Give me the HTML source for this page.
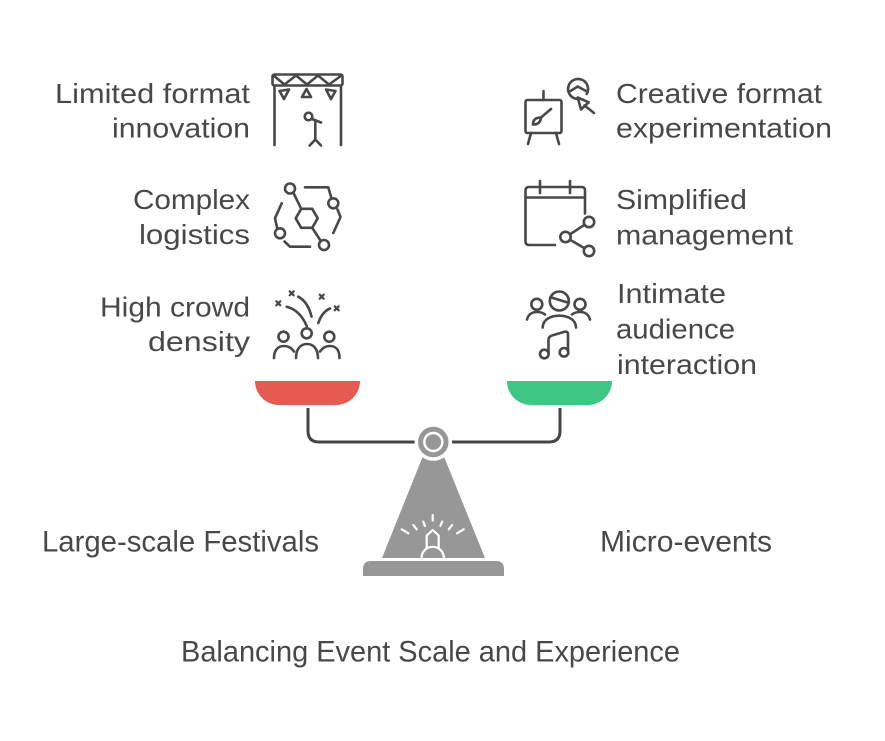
<!DOCTYPE html>
<html>
<head>
<meta charset="utf-8">
<style>
  html, body { margin: 0; padding: 0; background: #ffffff; }
  svg { display: block; }
  text { font-family: "Liberation Sans", Arial, sans-serif; fill: #484848; }
</style>
</head>
<body>
<svg width="885" height="741" viewBox="0 0 885 741" xmlns="http://www.w3.org/2000/svg">
  <rect x="0" y="0" width="885" height="741" fill="#ffffff"/>

  <!-- Left labels -->
  <g font-size="28" text-anchor="end">
    <text x="250" y="103" textLength="195" lengthAdjust="spacingAndGlyphs">Limited format</text>
    <text x="250" y="137.5" textLength="138" lengthAdjust="spacingAndGlyphs">innovation</text>
    <text x="250" y="209" textLength="117" lengthAdjust="spacingAndGlyphs">Complex</text>
    <text x="250" y="244" textLength="111" lengthAdjust="spacingAndGlyphs">logistics</text>
    <text x="250" y="316.5" textLength="150" lengthAdjust="spacingAndGlyphs">High crowd</text>
    <text x="250" y="351" textLength="102" lengthAdjust="spacingAndGlyphs">density</text>
  </g>

  <!-- Right labels -->
  <g font-size="28">
    <text x="616" y="103" textLength="206" lengthAdjust="spacingAndGlyphs">Creative format</text>
    <text x="616" y="137.5" textLength="216" lengthAdjust="spacingAndGlyphs">experimentation</text>
    <text x="616" y="209" textLength="131" lengthAdjust="spacingAndGlyphs">Simplified</text>
    <text x="616" y="244.5" textLength="177" lengthAdjust="spacingAndGlyphs">management</text>
    <text x="617" y="303" textLength="109" lengthAdjust="spacingAndGlyphs">Intimate</text>
    <text x="616" y="338.5" textLength="119" lengthAdjust="spacingAndGlyphs">audience</text>
    <text x="617" y="374" textLength="140" lengthAdjust="spacingAndGlyphs">interaction</text>
  </g>

  <!-- Bottom labels -->
  <g font-size="30">
    <text x="42" y="551.5" textLength="277" lengthAdjust="spacingAndGlyphs">Large-scale Festivals</text>
    <text x="600" y="551.5" textLength="172" lengthAdjust="spacingAndGlyphs">Micro-events</text>
    <text x="181" y="661.5" textLength="499" lengthAdjust="spacingAndGlyphs">Balancing Event Scale and Experience</text>
  </g>

  <!-- Icons -->
  <g fill="none" stroke="#484848" stroke-width="2.6" stroke-linecap="round" stroke-linejoin="round">
    <!-- Stage truss -->
    <rect x="272.5" y="74.5" width="70" height="11" rx="2"/>
    <polyline points="273.5,75.5 284.5,84.5 296,75.5 307,84.5 318,75.5 329,84.5 341.5,75.5"/>
    <line x1="274.5" y1="86" x2="274.5" y2="145"/>
    <line x1="341" y1="86" x2="341" y2="145"/>
    <polygon points="279.5,91 289,89.5 284,99"/>
    <polygon points="302,97 311,97 306.5,89"/>
    <polygon points="335.5,91 326,89.5 331,99"/>
    <circle cx="308.5" cy="116.5" r="3.8"/>
    <line x1="312" y1="119" x2="321" y2="122.5"/>
    <line x1="315.3" y1="121.5" x2="315.3" y2="139.5"/>
    <polyline points="309.7,145.5 315.3,139.5 321,145.5"/>

    <!-- Hexagon network -->
    <circle cx="290" cy="188.5" r="5"/>
    <circle cx="333.3" cy="203.3" r="5"/>
    <circle cx="280" cy="233.3" r="5"/>
    <circle cx="324" cy="245" r="5"/>
    <polygon points="317.7,218.3 312.2,227.8 301.2,227.8 295.7,218.3 301.2,208.8 312.2,208.8"/>
    <line x1="293.3" y1="192.5" x2="301.2" y2="208.8"/>
    <line x1="312.2" y1="227.8" x2="320.8" y2="241"/>
    <polyline points="305,187.3 328.3,187.3 331.5,198.5"/>
    <polyline points="337.5,209.5 340.5,217 333.3,233"/>
    <polyline points="281.7,203.3 275,218.3 277.3,228.5"/>
    <polyline points="284.5,241.5 290,246.7 310,246.7"/>

    <!-- Crowd with confetti -->
    <circle cx="283.5" cy="336.7" r="5"/>
    <circle cx="306.7" cy="333.3" r="5"/>
    <circle cx="329.3" cy="336.7" r="5"/>
    <path d="M274,358 C274,349 279,346 284,346 C289,346 292,348.5 294,351.5"/>
    <path d="M296,358 C296,348.5 301,344 307,344 C313,344 318,348.5 318,358"/>
    <path d="M320,351.5 C322,348.5 325,346 330,346 C335,346 339.5,349 339.5,358"/>
    <path d="M286.7,306.7 Q300,310 306.7,326"/>
    <path d="M298.3,296.7 Q308,302 311.5,316.5"/>
    <path d="M330,308.5 Q322,312 318.3,323"/>
    <g stroke-width="2.2">
      <path d="M276.3,301.3 L280.3,305.3 M280.3,301.3 L276.3,305.3"/>
      <path d="M289.7,291.3 L293.7,295.3 M293.7,291.3 L289.7,295.3"/>
      <path d="M319.7,294.7 L323.7,298.7 M323.7,294.7 L319.7,298.7"/>
      <path d="M334.7,306.3 L338.7,310.3 M338.7,306.3 L334.7,310.3"/>
    </g>

    <!-- Easel with cursor -->
    <rect x="525.5" y="100" width="36" height="33" rx="2"/>
    <line x1="543.5" y1="91" x2="543.5" y2="100"/>
    <line x1="531" y1="133" x2="528" y2="144"/>
    <line x1="556" y1="133" x2="559" y2="144"/>
    <path d="M533,124.5 Q533,117.5 541,117.5 Q540.5,124.5 533,124.5 Z"/>
    <line x1="541" y1="117.5" x2="551" y2="109"/>
    <path d="M576.3,98.8 A10,10 0 1 1 586.7,94"/>
    <polyline points="570.5,91 577.7,86.5 586,91"/>
    <polygon points="577.7,97.5 581,109.5 588.7,102.3"/>
    <line x1="584.5" y1="105.5" x2="594" y2="113"/>

    <!-- Calendar with share -->
    <path d="M555,245 H529 Q525.5,245 525.5,241.5 V190.5 Q525.5,187 529,187 H581.5 Q585,187 585,190.5 V213.5"/>
    <line x1="525.5" y1="197.5" x2="585" y2="197.5"/>
    <line x1="540" y1="181" x2="540" y2="193"/>
    <line x1="570" y1="181" x2="570" y2="193"/>
    <circle cx="589" cy="222" r="5.2"/>
    <circle cx="565.5" cy="237" r="5.2"/>
    <circle cx="589" cy="251" r="5.2"/>
    <line x1="570" y1="234.3" x2="584.5" y2="224.8"/>
    <line x1="570" y1="239.8" x2="584.5" y2="248.3"/>

    <!-- People with music note -->
    <circle cx="536.8" cy="304.3" r="5.5"/>
    <circle cx="559.3" cy="301" r="9.5"/>
    <line x1="550.5" y1="297.3" x2="568.5" y2="302.8"/>
    <circle cx="580" cy="304.3" r="5.5"/>
    <path d="M527,319.5 Q529,312 537,312 Q542,312 545,314.5"/>
    <path d="M590,319.5 Q588,312 580,312 Q575,312 572,314.5"/>
    <path d="M542.7,327.5 C542.7,320 550,315.7 559.3,315.7 C568.7,315.7 576,320 576,327.5"/>
    <circle cx="544.3" cy="354" r="4.3"/>
    <circle cx="564" cy="352.3" r="4.3"/>
    <path d="M548.5,353 V340 Q548.5,336.5 552,335.5 L564.5,331.8 Q568,331 568,334.5 V351"/>
  </g>

  <!-- Pans -->
  <path d="M255,381 H360 A24,24 0 0 1 336,405 H279 A24,24 0 0 1 255,381 Z" fill="#e55a52"/>
  <path d="M507,381 H612 A24,24 0 0 1 588,405 H531 A24,24 0 0 1 507,381 Z" fill="#3dc684"/>

  <!-- Beam -->
  <path d="M308,408 V431 Q308,442 319,442 H549 Q560,442 560,431 V408" fill="none" stroke="#454545" stroke-width="3"/>

  <!-- Fulcrum -->
  <polygon points="427.4,445 439.3,445 485,558 382,558" fill="#979797"/>
  <path d="M363,576 V569 Q363,561 371,561 H496 Q504,561 504,569 V576 Z" fill="#979797"/>
  <circle cx="433.3" cy="442" r="17" fill="#979797" stroke="#ffffff" stroke-width="3.5"/>
  <circle cx="433.3" cy="442" r="9" fill="#979797" stroke="#ffffff" stroke-width="2.4"/>

  <!-- Gauge -->
  <g fill="none" stroke="#ffffff" stroke-width="2.2" stroke-linecap="round" stroke-linejoin="round">
    <line x1="432.7" y1="515" x2="432.7" y2="520.7"/>
    <line x1="423.3" y1="521.7" x2="425" y2="526"/>
    <line x1="413.3" y1="525" x2="416.7" y2="529.3"/>
    <line x1="401.7" y1="529.3" x2="408.3" y2="533.3"/>
    <line x1="442.1" y1="521.7" x2="440.4" y2="526"/>
    <line x1="452.1" y1="525" x2="448.7" y2="529.3"/>
    <line x1="463.7" y1="529.3" x2="457.1" y2="533.3"/>
    <path d="M426.7,548 V535.5 L432.7,530 L438.7,535.5 V548"/>
    <path d="M421.5,558 A11.2,11.2 0 0 1 443.9,558"/>
  </g>
</svg>
</body>
</html>
